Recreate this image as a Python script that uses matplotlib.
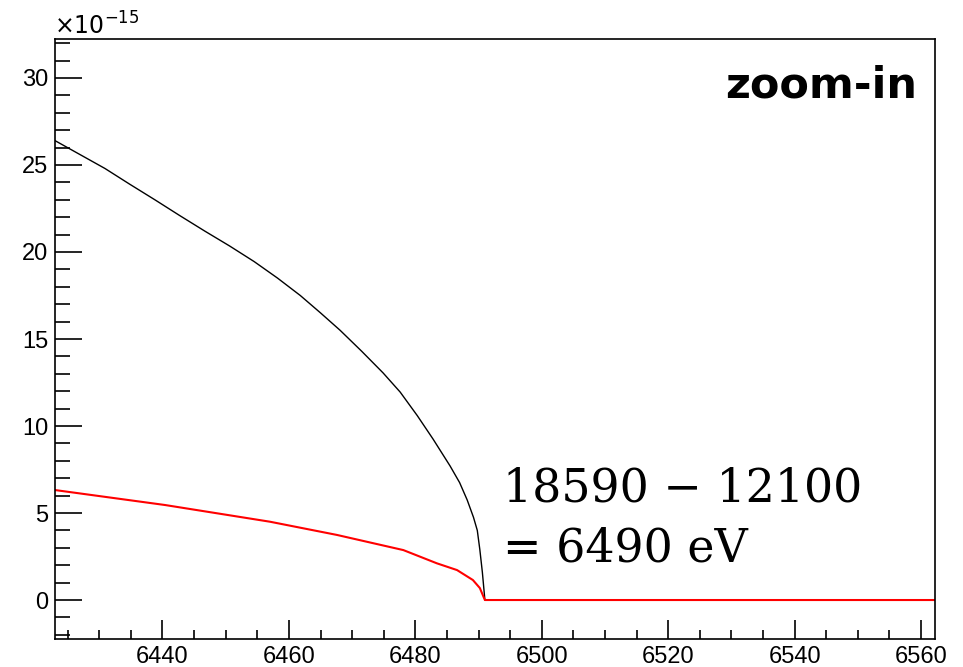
import matplotlib
matplotlib.use("Agg")
import matplotlib.pyplot as plt
from matplotlib.ticker import MultipleLocator

# Data (energy in eV, values in units of 1e-15)
black_E = [6423.0, 6430.9, 6434.8, 6438.8, 6442.7, 6446.7, 6450.6, 6454.5, 6458.2,
           6461.8, 6465.0, 6468.1, 6471.5, 6474.9, 6477.6, 6479.0, 6480.3, 6482.8,
           6485.5, 6487.0, 6488.2, 6489.2, 6489.8, 6490.2, 6490.6, 6491.0, 6562.2]
black_v = [26.4, 24.8, 23.9, 23.0, 22.1, 21.2, 20.35, 19.45, 18.5,
           17.5, 16.5, 15.5, 14.3, 13.05, 11.95, 11.25, 10.6, 9.25,
           7.7, 6.75, 5.75, 4.75, 4.0, 2.9, 1.6, 0.0, 0.0]

red_E = [6423.0, 6440.4, 6457.0, 6467.6, 6478.1, 6483.4, 6486.6, 6489.1, 6490.2, 6491.0, 6562.2]
red_v = [6.32, 5.46, 4.5, 3.74, 2.87, 2.11, 1.72, 1.15, 0.69, 0.0, 0.0]

x_ticks = [6440, 6460, 6480, 6500, 6520, 6540, 6560]
y_ticks = [0, 5, 10, 15, 20, 25, 30]

plt.rcParams['font.family'] = ['Liberation Sans', 'DejaVu Sans']

W, H = 963, 667
fig = plt.figure(figsize=(W / 100, H / 100), dpi=100)
ax = fig.add_axes([55 / W, (H - 639) / H, 880 / W, 600 / H])

ax.plot(black_E, black_v, color='black', lw=1.0)
ax.plot(red_E, red_v, color='#ff0000', lw=1.5)

ax.set_xlim(6423.0, 6562.2)
ax.set_ylim(-2.24, 32.24)
ax.set_xticks(x_ticks)
ax.set_yticks(y_ticks)
ax.xaxis.set_minor_locator(MultipleLocator(5))
ax.yaxis.set_minor_locator(MultipleLocator(1))

ax.tick_params(which='both', direction='in', top=False, right=False, labelsize=17, width=1.2)
ax.tick_params(axis='y', which='major', length=19.5, pad=5)
ax.tick_params(axis='y', which='minor', length=11)
ax.tick_params(axis='x', which='major', length=13.5, pad=5)
ax.tick_params(axis='x', which='minor', length=6.5)
for s in ax.spines.values():
    s.set_linewidth(1.2)

fig.text(54 / W, 1 - 35 / H, r'$\times10^{-15}$', fontsize=17, ha='left', va='baseline')

fig.text(917 / W, 1 - 97 / H, 'zoom-in', fontsize=31, fontweight='bold',
         family=['DejaVu Sans'], ha='right', va='baseline')

fig.text(503 / W, 1 - 502 / H, '18590 \u2212 12100', fontsize=33,
         family=['DejaVu Serif'], ha='left', va='baseline')
fig.text(503 / W, 1 - 562 / H, '= 6490 eV', fontsize=33,
         family=['DejaVu Serif'], ha='left', va='baseline')

fig.savefig('out.png', dpi=100)
